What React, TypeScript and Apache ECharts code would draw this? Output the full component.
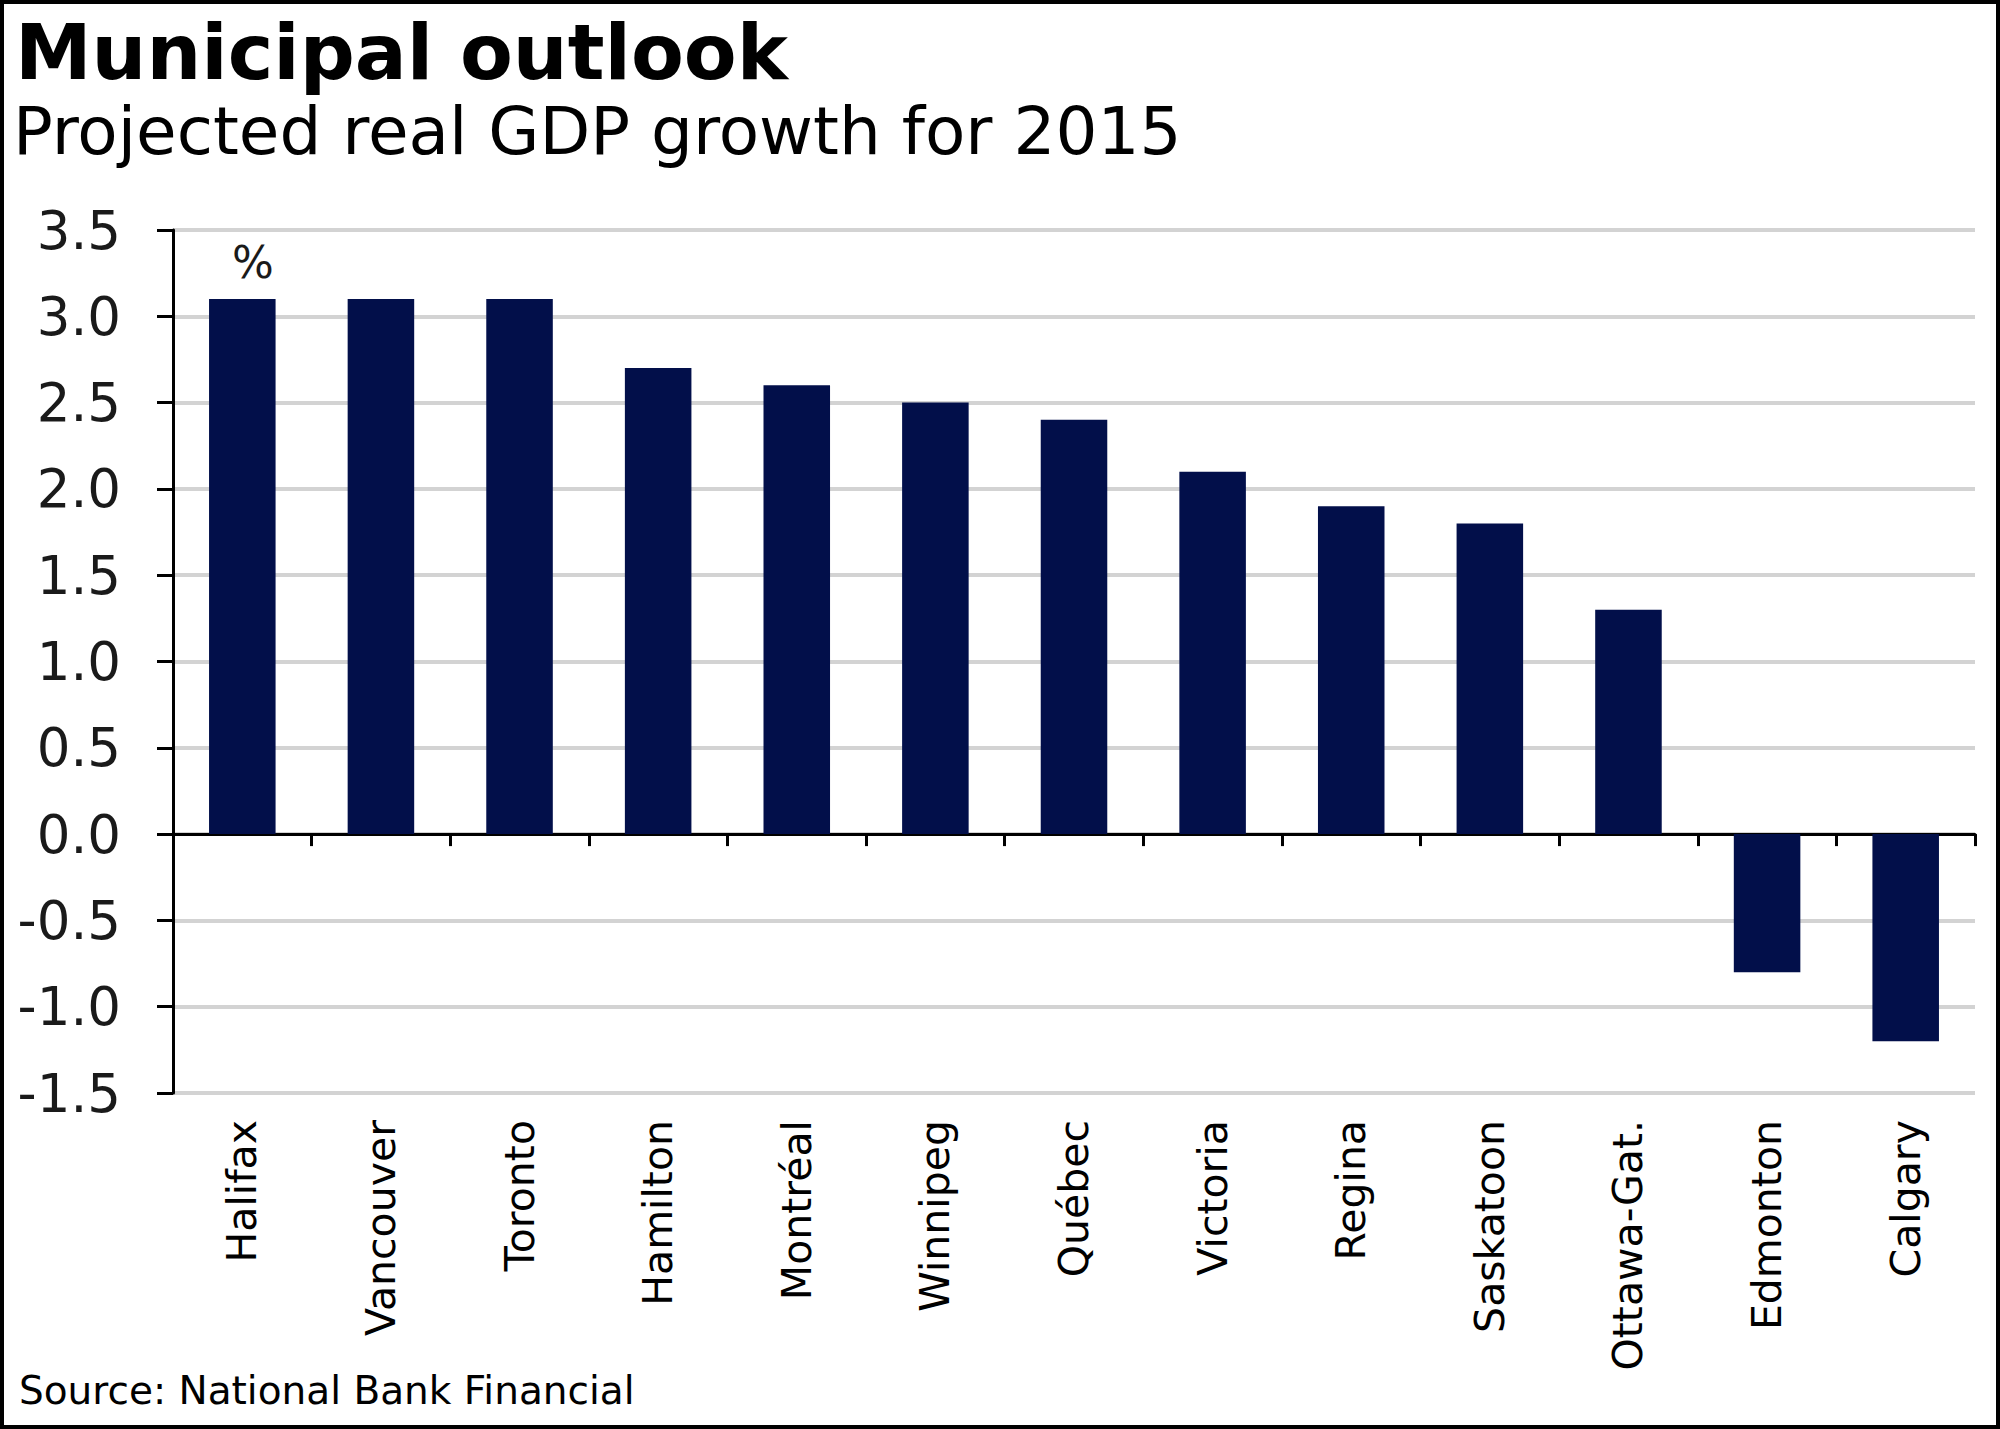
import React, { useEffect, useRef } from "react";
import * as echarts from "echarts";

const cities = [
  "Halifax",
  "Vancouver",
  "Toronto",
  "Hamilton",
  "Montréal",
  "Winnipeg",
  "Québec",
  "Victoria",
  "Regina",
  "Saskatoon",
  "Ottawa-Gat.",
  "Edmonton",
  "Calgary",
];
const gdpGrowth = [3.1, 3.1, 3.1, 2.7, 2.6, 2.5, 2.4, 2.1, 1.9, 1.8, 1.3, -0.8, -1.2];
const titleText = "Municipal outlook";
const subtitleText = "Projected real GDP growth for 2015";
const sourceText = "Source: National Bank Financial";
const unitText = "%";

const FONT = "'DejaVu Sans', Verdana, sans-serif";

export default function App() {
  const ref = useRef<HTMLDivElement>(null);

  useEffect(() => {
    if (!ref.current) return;
    const chart = echarts.init(ref.current, null, { renderer: "svg" });
    chart.setOption({
      animation: false,
      backgroundColor: "#ffffff",
      grid: { left: 173, right: 25, top: 230, bottom: 336, containLabel: false },
      xAxis: [
        {
          type: "category",
          data: cities,
          position: "bottom",
          axisLine: { show: false, onZero: false },
          axisTick: { show: false },
          splitLine: { show: false },
          axisLabel: {
            rotate: 90,
            margin: 27,
            fontSize: 41,
            color: "#000",
            fontFamily: FONT,
            interval: 0,
          },
        },
        {
          type: "category",
          data: cities,
          position: "bottom",
          axisLine: { show: true, onZero: true, lineStyle: { color: "#000", width: 3 } },
          axisTick: { show: true, length: 12, lineStyle: { color: "#000", width: 3 } },
          axisLabel: { show: false },
          splitLine: { show: false },
        },
      ],
      yAxis: {
        type: "value",
        min: -1.5,
        max: 3.5,
        interval: 0.5,
        axisLine: { show: true, onZero: false, lineStyle: { color: "#000", width: 3 } },
        axisTick: { show: true, length: 16, lineStyle: { color: "#000", width: 3 } },
        splitLine: { show: true, lineStyle: { color: "#d3d3d3", width: 4 } },
        axisLabel: {
          margin: 52,
          fontSize: 53,
          color: "#1a1a1a",
          fontFamily: FONT,
          formatter: (v: number) => v.toFixed(1),
        },
      },
      series: [
        {
          type: "bar",
          data: gdpGrowth,
          xAxisIndex: 0,
          barWidth: "48%",
          itemStyle: { color: "#020f4a" },
        },
      ],
      graphic: [
        {
          type: "text",
          left: 15,
          top: 14,
          style: {
            text: titleText,
            fontFamily: FONT,
            fontWeight: "bold",
            fontSize: 77,
            fill: "#000",
          },
        },
        {
          type: "text",
          left: 13,
          top: 98,
          style: {
            text: subtitleText,
            fontFamily: FONT,
            fontSize: 66,
            fill: "#000",
          },
        },
        {
          type: "text",
          left: 19,
          top: 1371,
          style: {
            text: sourceText,
            fontFamily: FONT,
            fontSize: 39,
            fill: "#000",
          },
        },
        {
          type: "text",
          x: 253,
          y: 262,
          style: {
            text: unitText,
            fontFamily: FONT,
            fontSize: 44,
            fill: "#1a1a1a",
            align: "center",
            verticalAlign: "middle",
          },
        },
        {
          type: "rect",
          shape: { x: 2, y: 2, width: 1996, height: 1425 },
          style: { fill: "none", stroke: "#000", lineWidth: 4 },
          z: 100,
        },
      ],
    });
    return () => chart.dispose();
  }, []);

  return (
    <div
      ref={ref}
      style={{ position: "absolute", left: 0, top: 0, width: 2000, height: 1429 }}
    />
  );
}
